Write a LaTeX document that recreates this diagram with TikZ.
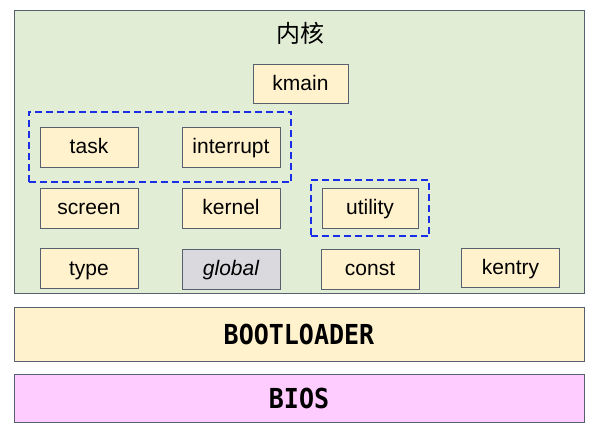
\documentclass[tikz,border=0pt]{standalone}
\usepackage{fontspec}
\setmainfont{Liberation Sans}
\newfontfamily\cjk{Noto Sans CJK SC}
\newfontfamily\bootfont{DejaVu Sans Mono}
\usepackage{tikz}
\usetikzlibrary{positioning, fit}

\definecolor{kerngreen}{HTML}{E2EDD5}
\definecolor{modfill}{HTML}{FFF2CC}
\definecolor{modline}{HTML}{56606E}
\definecolor{biospink}{HTML}{FFCCFF}
\definecolor{globgray}{HTML}{D9D9DE}
\definecolor{dashblue}{HTML}{1A2EE6}

\newcommand{\bootlabel}[1]{\scalebox{1}[1.1]{#1}}

\tikzset{
	module/.style={draw=modline, fill=modfill, line width=0.8pt, minimum width=98pt, minimum height=40pt,
		text height=15pt, text depth=1.5pt, font=\fontsize{21}{21}\selectfont},
	layer/.style={draw=modline, line width=0.8pt, minimum width=570pt},
	group/.style={draw=dashblue, dashed, dash pattern=on 7pt off 4pt, line width=2pt, inner xsep=11pt}
}

\begin{document}
\begin{tikzpicture}[x=1pt, y=-1pt]
	\useasboundingbox (0,0) rectangle (596,431);
	% kernel layer
	\node[layer, fill=kerngreen, minimum height=283pt] (kern) at (299,151.5) {};
	\node[font=\cjk\fontsize{24}{24}\selectfont] (title) at (300,33) {内核};
	%
	\node[module, minimum width=95pt, minimum height=39pt] (kmain) at (300.5,83.5) {kmain};
	%
	\node[module] (task) at (89,147) {task};
	\node[module] (interrupt) at (231,147) {interrupt};
	%
	\node[module] (screen) at (89,208) {screen};
	\node[module] (kernel) at (231,208) {kernel};
	\node[module, minimum width=96pt] (utility) at (370,208) {utility};
	%
	\node[module] (type) at (89,268.5) {type};
	\node[module, fill=globgray, font=\fontsize{21}{21}\selectfont\itshape] (global) at (231,269) {global};
	\node[module] (const) at (370,269) {const};
	\node[module, minimum height=39pt] (kentry) at (510.5,268) {kentry};
	%
	\node[group, fit=(task)(interrupt), inner ysep=15pt] (irqgroup) {};
	\node[group, fit=(utility), inner ysep=7.5pt] (utilgroup) {};
	% boot layers
	\node[layer, fill=modfill, minimum height=54pt, font=\bootfont\bfseries\fontsize{25}{25}\selectfont] (boot) at (299,334) {\bootlabel{BOOTLOADER}};
	\node[layer, fill=biospink, minimum height=48pt, font=\bootfont\bfseries\fontsize{25}{25}\selectfont] (bios) at (299,398) {\bootlabel{BIOS}};
\end{tikzpicture}
\end{document}
